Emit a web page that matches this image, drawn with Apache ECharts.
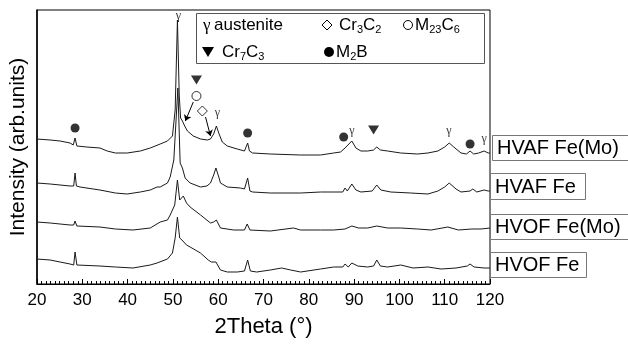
<!DOCTYPE html>
<html><head><meta charset="utf-8">
<script src="https://cdn.jsdelivr.net/npm/echarts@6/dist/echarts.min.js"></script>
<style>html,body{margin:0;padding:0;background:#fff}#c{width:628px;height:346px}</style>
</head><body><div id="c"></div>
<script>
// ---- data (2Theta in degrees, intensity in arbitrary units, curves stacked with offsets) ----
const xTickLabels = [20, 30, 40, 50, 60, 70, 80, 90, 100, 110, 120];
const seriesNames = ['HVAF Fe(Mo)', 'HVAF Fe', 'HVOF Fe(Mo)', 'HVOF Fe'];

const hvafFeMo = [[20,145],[22.9,144],[25.1,143],[27.3,141],[28.0,139],[28.4,146],[28.8,138],[31,137],[33.9,136],[35.5,133],[37.3,131],[39.9,131],[42.8,133],[45.0,136],[47.2,140],[48.8,143],[49.9,148],[50.5,174],[51.0,264],[51.4,189],[51.7,166],[52.1,163],[52.3,162],[52.6,158],[53.2,153],[54.5,148],[56.1,145],[57.6,144],[58.3,145],[59.0,150],[59.6,158],[60.2,150],[60.9,142],[62.0,138],[64.2,135],[65.8,133],[66.2,134],[66.5,141],[66.9,133],[67.6,131],[71.5,130],[78.2,129],[82.6,129],[85.5,131],[87.0,132],[88.0,136],[88.4,135],[89.5,143],[90.4,136],[91.5,133],[93.0,133],[94.3,134],[95.0,137],[95.8,134],[97.4,133],[100.3,131],[104,130],[106.3,131],[108.5,133],[110,137],[111.0,141],[112.0,137],[113.6,131],[114.8,130],[115.6,133],[116.4,130],[117.5,131],[118.7,133],[119.6,131],[120,131]];

const hvafFe = [[20,101],[22.9,100],[25.1,99],[27.3,98],[28.1,98],[28.4,111],[28.7,98],[29.5,97],[33.9,94],[37.3,91],[39.9,90],[42.8,92],[45.0,94],[46.5,97],[47.2,97],[48.8,101],[49.4,107],[50.2,124],[51.1,196],[51.6,121],[52.1,116],[52.7,106],[53.8,101],[56.1,97],[57.5,98],[58.3,101],[59.0,109],[59.5,116],[60.2,106],[60.5,101],[62.0,97],[64.9,96],[65.8,95],[66.5,106],[67.0,93],[67.6,92],[71.5,91],[78.2,91],[82.6,92],[85.5,92],[87.5,92],[88.0,96],[88.5,93],[89.5,100],[90.4,94],[91.5,92],[94.0,93],[95.0,99],[95.9,94],[98.1,92],[102.5,91],[106.3,90],[108.5,93],[110,97],[111.0,101],[112.5,95],[113.6,92],[115.6,93],[116.2,95],[117.1,92],[118.7,94],[119.6,93],[120,93]];

const hvofFeMo = [[20,62],[22.9,61],[25.1,60],[27.3,59],[28.1,59],[28.4,63],[28.8,58],[33.9,57],[37.3,55],[41.2,54],[45.0,56],[47.2,62],[48.8,64],[49.4,69],[50.4,79],[51.0,104],[51.5,84],[52.3,88],[53.0,81],[53.8,77],[56.1,69],[58.3,61],[59.0,62],[59.6,64],[60.5,56],[63.4,54],[65.8,54],[66.4,60],[67.0,54],[71.5,53],[76.6,56],[78.2,54],[82.6,54],[85.5,54],[88.0,55],[89.5,58],[91,56],[93,56],[95.0,58],[97.4,56],[100.3,56],[104,55],[107,54],[110.7,57],[113,54],[116,55],[118,55],[120,56]];

const hvofFe = [[20,25],[22.9,24],[25.1,22],[27.3,20],[28.1,19],[28.4,32],[28.8,19],[33.9,18],[37.3,17],[41.2,16],[45.0,19],[46.5,21],[48.8,25],[49.9,31],[50.5,46],[51.0,67],[51.5,46],[52.0,44],[52.3,45],[53.0,39],[53.8,37],[56.1,31],[57.8,24],[58.5,22],[58.9,20],[59.5,22],[60.5,14],[62.0,12],[64.2,12],[65.8,13],[66.5,24],[67.1,13],[68.5,12],[71.5,14],[74,16],[76,14],[78.2,12],[82.6,15],[85.5,17],[87.5,17],[88.0,20],[88.7,17],[89.5,21],[90.8,18],[93.0,17],[94.3,18],[95.0,24],[95.8,18],[97.4,17],[100.3,19],[103,16],[106.3,17],[109.2,15],[112.5,16],[115.0,18],[115.6,20],[116.5,17],[118.7,16],[120,16]];

// phase annotation positions [2Theta, intensity]
const m2bPts = [[28.4,156],[66.5,151],[87.7,147],[115.6,140]];
const m23c6Pts = [[55.2,188]];
const cr7c3Pts = [[55.2,204],[94.3,154]];
const cr3c2Pts = [[56.5,173]];
const gammaPts = [[51.2,268],[59.8,171],[89.5,153],[110.9,153],[118.7,145]];
const arrowPts = [[[54.5,182],[52.75,163]], [[57.2,167],[58.3,148]]];

const FONT = 'Arial, "Liberation Sans", sans-serif';
const chart = echarts.init(document.getElementById('c'), null, {renderer: 'canvas'});

const curve = (name, data) => ({
  name, type: 'line', data, symbol: 'none', silent: true,
  lineStyle: {color: '#1a1a1a', width: 1}, animation: false, z: 2
});

const rich = {s: {fontSize: 11, fontFamily: FONT, color: '#000', padding: [9, 0, 0, 0]}};
const legendText = (x, y, t) => ({type: 'text', x, y, style: {text: t, font: '17px ' + FONT, fill: '#000', verticalAlign: 'middle', rich: rich}});

const boxes = [
  {x: 492, y: 135, w: 150, h: 25},
  {x: 490, y: 173, w: 95, h: 26},
  {x: 490, y: 214, w: 150, h: 25},
  {x: 490, y: 252, w: 96, h: 25}
];
const boxGraphics = [];
boxes.forEach((b, i) => {
  boxGraphics.push({type: 'rect', shape: {x: b.x + 0.5, y: b.y + 0.5, width: b.w, height: b.h}, style: {fill: '#fff', stroke: '#777', lineWidth: 1}});
  boxGraphics.push({type: 'text', x: b.x + 5, y: b.y + b.h / 2 + 1, style: {text: seriesNames[i], font: '20px ' + FONT, fill: '#000', verticalAlign: 'middle'}});
});

chart.setOption({
  animation: false,
  backgroundColor: '#fff',
  grid: {left: 37, right: 138, top: 10, bottom: 62, show: true, borderColor: '#000', borderWidth: 1},
  xAxis: {
    type: 'value', min: 20, max: 120, interval: 10,
    name: '2Theta (°)', nameLocation: 'middle', nameGap: 32,
    nameTextStyle: {fontSize: 22, fontFamily: FONT, color: '#000'},
    axisLine: {lineStyle: {color: '#000', width: 1}},
    axisTick: {inside: true, length: 5, lineStyle: {color: '#000'}},
    minorTick: {show: true, splitNumber: 10, length: 3, lineStyle: {color: '#000'}},
    axisLabel: {fontSize: 17, fontFamily: FONT, color: '#000', margin: 8,
      formatter: v => xTickLabels.includes(v) ? String(v) : ''},
    splitLine: {show: false}
  },
  yAxis: {
    type: 'value', min: 0, max: 274,
    name: 'Intensity (arb.units)', nameLocation: 'middle', nameGap: 8,
    nameTextStyle: {fontSize: 21, fontFamily: FONT, color: '#000'},
    axisLine: {show: true, lineStyle: {color: '#000', width: 1.5}},
    axisTick: {show: false}, axisLabel: {show: false}, splitLine: {show: false}
  },
  series: [
    curve(seriesNames[0], hvafFeMo),
    curve(seriesNames[1], hvafFe),
    curve(seriesNames[2], hvofFeMo),
    curve(seriesNames[3], hvofFe),
    {type: 'scatter', data: m2bPts, symbol: 'circle', symbolSize: 9, itemStyle: {color: '#000'}, z: 5},
    {type: 'scatter', data: m23c6Pts, symbol: 'circle', symbolSize: 9, itemStyle: {color: '#fff', borderColor: '#000', borderWidth: 1}, z: 5},
    {type: 'scatter', data: cr7c3Pts, symbol: 'triangle', symbolRotate: 180, symbolSize: [11, 9], itemStyle: {color: '#000'}, z: 5},
    {type: 'scatter', data: cr3c2Pts, symbol: 'diamond', symbolSize: [10, 10], itemStyle: {color: '#fff', borderColor: '#000', borderWidth: 1}, z: 5},
    {type: 'scatter', data: gammaPts, symbol: 'circle', symbolSize: 1, itemStyle: {color: 'rgba(0,0,0,0)'}, z: 6,
      label: {show: true, position: 'inside', formatter: 'γ', fontSize: 12, fontFamily: '"Liberation Serif", "DejaVu Serif", serif', color: '#000'}},
    {type: 'lines', coordinateSystem: 'cartesian2d', data: arrowPts.map(c => ({coords: c})),
      symbol: ['none', 'arrow'], symbolSize: 6, lineStyle: {color: '#000', width: 1, opacity: 1}, z: 5}
  ],
  graphic: [
    {type: 'rect', shape: {x: 196.5, y: 13.5, width: 288, height: 50}, style: {fill: '#fff', stroke: '#555', lineWidth: 1}, z: 10},
    {type: 'text', x: 203, y: 26, z: 11, style: {text: 'γ', font: '17px "Liberation Serif", serif', fill: '#000', verticalAlign: 'middle'}},
    Object.assign(legendText(214, 25, 'austenite'), {z: 11}),
    {type: 'polygon', z: 11, shape: {points: [[327, 20], [332, 25], [327, 30], [322, 25]]}, style: {fill: '#fff', stroke: '#000', lineWidth: 1}},
    Object.assign(legendText(339, 25, 'Cr{s|3}C{s|2}'), {z: 11}),
    {type: 'circle', z: 11, shape: {cx: 408, cy: 25, r: 4.5}, style: {fill: '#fff', stroke: '#000', lineWidth: 1}},
    Object.assign(legendText(415, 25, 'M{s|23}C{s|6}'), {z: 11}),
    {type: 'polygon', z: 11, shape: {points: [[202, 47], [214, 47], [208, 57]]}, style: {fill: '#000'}},
    Object.assign(legendText(222, 52, 'Cr{s|7}C{s|3}'), {z: 11}),
    {type: 'circle', z: 11, shape: {cx: 329, cy: 52, r: 5}, style: {fill: '#000'}},
    Object.assign(legendText(336, 52, 'M{s|2}B'), {z: 11})
  ].concat(boxGraphics)
});
</script>
</body></html>
